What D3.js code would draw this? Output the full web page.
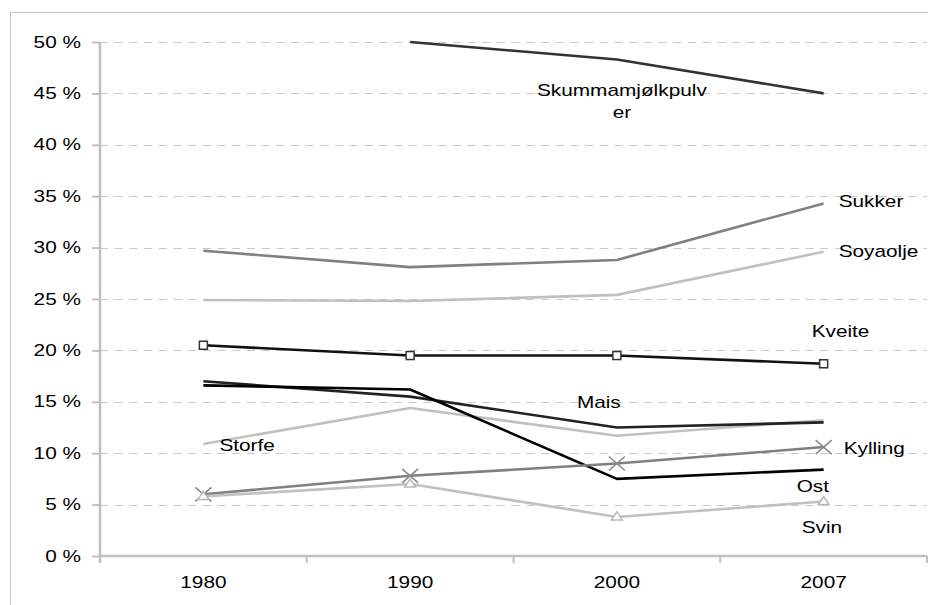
<!DOCTYPE html>
<html>
<head>
<meta charset="utf-8">
<script src="https://cdn.jsdelivr.net/npm/d3@7/dist/d3.min.js"></script>
<style>
  html, body { margin: 0; padding: 0; background: #fff; }
  svg { display: block; font-family: "Liberation Sans", Arial, sans-serif; }
</style>
</head>
<body>
<svg id="chart" width="928" height="605"></svg>
<script>
// Years on the category axis
const years = ["1980", "1990", "2000", "2007"];

// Share per product (fraction), one array per series; null = no value
const skummamjolkpulver = [null, 0.500, 0.483, 0.450];
const sukker           = [0.297, 0.281, 0.288, 0.343];
const soyaolje         = [0.249, 0.248, 0.254, 0.296];
const kveite           = [0.205, 0.195, 0.195, 0.187];
const storfe           = [0.109, 0.144, 0.117, 0.132];
const mais             = [0.170, 0.155, 0.125, 0.130];
const ost              = [0.166, 0.162, 0.075, 0.084];
const kylling          = [0.060, 0.078, 0.090, 0.106];
const svin             = [0.058, 0.070, 0.038, 0.053];

// Y tick values
const yTicks = [0, 0.05, 0.10, 0.15, 0.20, 0.25, 0.30, 0.35, 0.40, 0.45, 0.50];

const seriesList = [
  { name: "Skummamjølkpulver", values: skummamjolkpulver },
  { name: "Sukker", values: sukker },
  { name: "Soyaolje", values: soyaolje },
  { name: "Storfe", values: storfe },
  { name: "Kveite", values: kveite },
  { name: "Mais", values: mais },
  { name: "Ost", values: ost },
  { name: "Kylling", values: kylling },
  { name: "Svin", values: svin }
];

// Appearance of each series
const style = {
  "Skummamjølkpulver": { color: "#333333" },
  "Sukker":   { color: "#808080" },
  "Soyaolje": { color: "#c0c0c0" },
  "Storfe":   { color: "#c0c0c0" },
  "Kveite":   { color: "#111111", marker: "square" },
  "Mais":     { color: "#222222" },
  "Ost":      { color: "#000000" },
  "Kylling":  { color: "#808080", marker: "cross" },
  "Svin":     { color: "#c0c0c0", marker: "triangle" }
};

// Label placement: anchored on a year's point, with pixel offsets
const labelPlacement = [
  { name: "Skummamjølkpulver", lines: ["Skummamjølkpulv", "er"], at: 2, dx: 5, dy: 36.5, anchor: "middle" },
  { name: "Sukker",   lines: ["Sukker"],   at: 3, dx: 15,  dy: 4,   anchor: "start" },
  { name: "Soyaolje", lines: ["Soyaolje"], at: 3, dx: 15,  dy: 5.5, anchor: "start" },
  { name: "Kveite",   lines: ["Kveite"],   at: 3, dx: -12, dy: -27, anchor: "start" },
  { name: "Mais",     lines: ["Mais"],     at: 2, dx: -40, dy: -20, anchor: "start" },
  { name: "Storfe",   lines: ["Storfe"],   at: 0, dx: 16,  dy: 7,   anchor: "start" },
  { name: "Kylling",  lines: ["Kylling"],  at: 3, dx: 20,  dy: 7,   anchor: "start" },
  { name: "Ost",      lines: ["Ost"],      at: 3, dx: -27, dy: 22,  anchor: "start" },
  { name: "Svin",     lines: ["Svin"],     at: 3, dx: -22, dy: 31,  anchor: "start" }
];

const svg = d3.select("#chart");
const FONT = 16, STRETCH = 1.3;
const axisColor = "#c0c0c0";

const plot = { left: 100, right: 927, top: 42, bottom: 556 };

const x = d3.scaleBand().domain(years).range([plot.left, plot.right]);
const xc = i => x(years[i]) + x.bandwidth() / 2;
const y = d3.scaleLinear().domain([0, 0.5]).range([plot.bottom, plot.top]);

// Outer frame
svg.append("rect")
  .attr("x", 10.5).attr("y", 12.5)
  .attr("width", 960).attr("height", 640)
  .attr("fill", "#fff").attr("stroke", "#c8c8c8").attr("stroke-width", 1);

// Text helper: wide-set glyphs, as in the chart's typography
function label(g, tx, ty, text, anchor) {
  return g.append("text")
    .attr("transform", `translate(${tx},${ty}) scale(${STRETCH},1)`)
    .attr("text-anchor", anchor)
    .attr("font-size", FONT)
    .attr("fill", "#000")
    .text(text);
}

// Horizontal dashed gridlines
svg.append("g")
  .selectAll("line")
  .data(yTicks.filter(d => d > 0))
  .join("line")
  .attr("x1", plot.left).attr("x2", plot.right)
  .attr("y1", d => Math.round(y(d)) + 0.5).attr("y2", d => Math.round(y(d)) + 0.5)
  .attr("stroke", "#c8c8c8").attr("stroke-width", 1)
  .attr("stroke-dasharray", "8,6.7");

// Y axis
const yAxis = d3.axisLeft(y).tickValues(yTicks).tickSize(8).tickFormat(d => "");
const gy = svg.append("g").attr("transform", `translate(${plot.left},0)`).call(yAxis);
gy.select(".domain").remove();
gy.selectAll(".tick line").attr("stroke", axisColor).attr("stroke-width", 2);
svg.append("line")
  .attr("x1", plot.left).attr("x2", plot.left)
  .attr("y1", plot.top).attr("y2", plot.bottom + 7)
  .attr("stroke", axisColor).attr("stroke-width", 2.5);
const fmtPct = d => Math.round(d * 100) + " %";
const yLabels = svg.append("g");
yTicks.forEach(t => label(yLabels, 81, y(t) + 5.6, fmtPct(t), "end"));

// X axis (ticks at band boundaries)
const bounds = years.map(c => x(c)).concat([plot.right]);
svg.append("line")
  .attr("x1", plot.left).attr("x2", plot.right)
  .attr("y1", plot.bottom).attr("y2", plot.bottom)
  .attr("stroke", axisColor).attr("stroke-width", 2.5);
svg.append("g").selectAll("line").data(bounds).join("line")
  .attr("x1", d => d).attr("x2", d => d)
  .attr("y1", plot.bottom).attr("y2", plot.bottom + 7)
  .attr("stroke", axisColor).attr("stroke-width", 2);
const xLabels = svg.append("g");
years.forEach((c, i) => label(xLabels, xc(i), 588, c, "middle"));

// Series lines
const line = d3.line()
  .defined(d => d.v != null)
  .x(d => xc(d.i))
  .y(d => y(d.v));

const gLines = svg.append("g");
seriesList.forEach(s => {
  const pts = s.values.map((v, i) => ({ v, i }));
  gLines.append("path")
    .attr("d", line(pts))
    .attr("fill", "none")
    .attr("stroke", style[s.name].color)
    .attr("stroke-width", 2.6)
    .attr("stroke-linejoin", "round");
});

// Markers
const gMarks = svg.append("g");
seriesList.forEach(s => {
  const st = style[s.name];
  if (!st.marker) return;
  s.values.forEach((v, i) => {
    if (v == null) return;
    const cx = xc(i), cy = y(v);
    if (st.marker === "square") {
      gMarks.append("rect")
        .attr("x", cx - 4).attr("y", cy - 4).attr("width", 8).attr("height", 8)
        .attr("fill", "#fff").attr("stroke", "#333").attr("stroke-width", 1.5);
    } else if (st.marker === "cross") {
      gMarks.append("path")
        .attr("d", `M${cx - 8},${cy - 7}L${cx + 8},${cy + 7}M${cx - 8},${cy + 7}L${cx + 8},${cy - 7}`)
        .attr("stroke", "#8a8a8a").attr("stroke-width", 1.6).attr("fill", "none");
    } else if (st.marker === "triangle") {
      gMarks.append("path")
        .attr("d", `M${cx},${cy - 5}L${cx + 5.5},${cy + 3}L${cx - 5.5},${cy + 3}Z`)
        .attr("stroke", "#b8b8b8").attr("stroke-width", 1.5).attr("fill", "#fff");
    }
  });
});

// Series labels
const gLabels = svg.append("g");
labelPlacement.forEach(p => {
  const s = seriesList.find(d => d.name === p.name);
  const bx = xc(p.at) + p.dx;
  const by = y(s.values[p.at]) + p.dy;
  p.lines.forEach((t, k) => label(gLabels, bx, by + k * 22, t, p.anchor));
});
</script>
</body>
</html>
